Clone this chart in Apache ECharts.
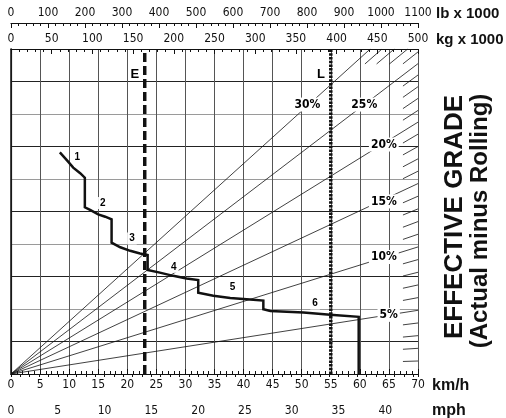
<!DOCTYPE html>
<html>
<head>
<meta charset="utf-8">
<title>Gradeability chart</title>
<script src="https://cdn.jsdelivr.net/npm/echarts@6/dist/echarts.min.js"></script>
<style>
  html, body { margin: 0; padding: 0; background: #fff; }
  #chart { width: 506px; height: 418px; }
</style>
</head>
<body>
<div id="chart"></div>
<script>
// --- data ---
// rimpull curve: speed (km/h) against rimpull (unlabelled scale, 0..100)
const curveSpeed = [8.4, 9.6, 10.7, 11.9, 12.7, 12.7, 13.6, 15.0, 16.2, 17.3, 17.3, 18.8, 20.5, 22.2, 23.5, 23.5,
  25.6, 27.9, 30.2, 32.2, 32.2, 34.8, 37.7, 41.1, 43.4, 43.4, 44.6, 50.3, 54.9, 59.8, 59.8];
const curveRimpull = [68.2, 65.8, 63.5, 61.8, 60.4, 51.3, 50.5, 49.1, 48.4, 47.6, 40.4, 39.0, 37.9, 37.1, 36.6, 32.0,
  31.2, 30.2, 29.4, 28.9, 25.0, 24.1, 23.4, 22.9, 22.6, 19.9, 19.4, 18.9, 18.2, 17.6, 0];

// gear numbers along the curve
const gearNames = ['1', '2', '3', '4', '5', '6'];
const gearLabelSpeed = [11.4, 15.8, 20.8, 28.0, 38.1, 52.3];
const gearLabelRimpull = [66.6, 52.6, 41.7, 33.0, 26.6, 21.7];

// grade lines: rimpull reached at 500 (kg x 1000) for each grade %
const gradePct = [1, 2, 3, 4, 5, 6, 7, 8, 9, 10, 11, 12, 13, 14, 15,
  16, 17, 18, 19, 20, 21, 22, 23, 24, 25, 26, 27, 28, 29, 30];
const gradeAt500 = [4.0, 7.9, 11.8, 15.7, 19.6, 23.5, 27.4, 31.3, 35.2, 39.1, 43.0, 46.9, 50.8, 54.7, 58.6,
  62.4, 66.2, 70.0, 73.8, 77.5, 81.1, 84.8, 88.4, 92.0, 95.5, 99.1, 102.6, 106.2, 109.7, 113.3];

// labelled grade lines and where their labels sit (kg x 1000, rimpull)
const gradeLabels = ['30%', '25%', '20%', '15%', '10%', '5%'];
const gradeLabelKg = [364, 434, 458, 458, 458, 464];
const gradeLabelRimpull = [82.9, 82.9, 70.6, 53.1, 36.0, 18.2];

// limit lines E and L (km/h)
const limitNames = ['E', 'L'];
const limitSpeed = [23, 55];
const limitLabelSpeed = [21.3, 53.3];
const limitLabelRimpull = [92.3, 92.3];

// scales
const kmhMax = 70;
const mphMax = 43.5;
const kgMax = 500;
const lbMax = 1100;

const numFont = '"Liberation Sans Narrow", "DejaVu Sans Condensed", "Liberation Sans", sans-serif';
const boldFont = '"Liberation Sans", Arial, sans-serif';

const chart = echarts.init(document.getElementById('chart'));

// where a grade line leaves the plot (right edge or top edge)
const edgeOf = v => v > 100 ? [kgMax * 100 / v, 100] : [kgMax, v];

const fullGrades = [];
const hatchGrades = [];
gradePct.forEach((g, i) => {
  const end = edgeOf(gradeAt500[i]);
  if (g % 5 === 0) {
    fullGrades.push({ coords: [[0, 0], end] });
  } else {
    // only the short piece next to the edge is drawn
    const t = gradeAt500[i] > 100 ? 0.954 : 0.963;
    hatchGrades.push({ coords: [[end[0] * t, end[1] * t], end] });
  }
});

const axisText = { fontFamily: numFont, fontSize: 12, color: '#111', formatter: v => String(v) };
const labelBox = { show: true, position: 'inside', formatter: p => p.name, color: '#000', fontWeight: 'bold' };

chart.setOption({
  animation: false,
  backgroundColor: '#fff',
  grid: { left: 11, right: 88, top: 49, bottom: 44, containLabel: false, outerBoundsMode: 'none' },
  xAxis: [
    { // km/h
      type: 'value', position: 'bottom', min: 0, max: kmhMax, interval: 5,
      axisLine: { lineStyle: { color: '#111', width: 1.2 } },
      axisTick: { inside: true, length: 5, lineStyle: { color: '#111' } },
      minorTick: { show: true, splitNumber: 5, length: 3, lineStyle: { color: '#111' } },
      axisLabel: { ...axisText, margin: 5 },
      splitLine: { show: true, lineStyle: { color: '#555', width: 1 } }
    },
    { // mph
      type: 'value', position: 'bottom', offset: 26, min: 0, max: mphMax, interval: 1,
      axisLine: { lineStyle: { color: '#111', width: 1.2 } },
      axisTick: { length: 3, lineStyle: { color: '#111' } },
      axisLabel: { ...axisText, margin: 5, formatter: v => (v % 5 === 0 ? String(v) : '') },
      splitLine: { show: false }
    },
    { // kg x 1000
      type: 'value', position: 'top', min: 0, max: kgMax, interval: 50,
      axisLine: { lineStyle: { color: '#111', width: 1.2 } },
      axisTick: { inside: true, length: 5, lineStyle: { color: '#111' } },
      minorTick: { show: true, splitNumber: 5, length: 3, lineStyle: { color: '#111' } },
      axisLabel: { ...axisText, margin: 4 },
      splitLine: { show: false }
    },
    { // lb x 1000
      type: 'value', position: 'top', offset: 26, min: 0, max: lbMax, interval: 100,
      axisLine: { lineStyle: { color: '#111', width: 1.2 } },
      axisTick: { inside: true, length: 5, lineStyle: { color: '#111' } },
      minorTick: { show: true, splitNumber: 5, length: 3, lineStyle: { color: '#111' } },
      axisLabel: { ...axisText, margin: 4 },
      splitLine: { show: false }
    }
  ],
  yAxis: [
    {
      type: 'value', min: 0, max: 100, interval: 10,
      axisLine: { show: true, lineStyle: { color: '#333', width: 1.2 } },
      axisTick: { show: false }, axisLabel: { show: false },
      splitLine: { show: true, lineStyle: { color: ['#9a9a9a', '#222'], width: 1 } }
    },
    {
      type: 'value', position: 'right', min: 0, max: 100, interval: 10,
      axisLine: { show: true, lineStyle: { color: '#111', width: 1.5 } },
      axisTick: { show: false }, axisLabel: { show: false }, splitLine: { show: false }
    }
  ],
  series: [
    {
      name: 'grades', type: 'lines', coordinateSystem: 'cartesian2d', xAxisIndex: 2, yAxisIndex: 0,
      silent: true, z: 3,
      lineStyle: { color: '#111', width: 0.8, opacity: 1 },
      data: fullGrades
    },
    {
      name: 'hatch', type: 'lines', coordinateSystem: 'cartesian2d', xAxisIndex: 2, yAxisIndex: 0,
      silent: true, z: 3,
      lineStyle: { color: '#111', width: 0.8, opacity: 1 },
      data: hatchGrades
    },
    {
      name: 'grade labels', type: 'scatter', xAxisIndex: 2, yAxisIndex: 0, symbolSize: 0, z: 6,
      itemStyle: { opacity: 1 },
      label: { ...labelBox, fontFamily: numFont, fontSize: 12, backgroundColor: '#fff', padding: [1, 2] },
      data: gradeLabels.map((t, i) => ({ name: t, value: [gradeLabelKg[i], gradeLabelRimpull[i]] }))
    },
    ...limitNames.map((n, i) => ({
      name: n, type: 'line', xAxisIndex: 0, yAxisIndex: 0, symbol: 'none', z: 4,
      lineStyle: { color: '#111', width: 3.5, type: n === 'E' ? [9, 4] : [2.5, 1.2] },
      data: [[limitSpeed[i], 0], [limitSpeed[i], 100]]
    })),
    {
      name: 'limit labels', type: 'scatter', xAxisIndex: 0, yAxisIndex: 0, symbolSize: 0, z: 6,
      itemStyle: { opacity: 1 },
      label: { ...labelBox, fontFamily: boldFont, fontSize: 13 },
      data: limitNames.map((n, i) => ({ name: n, value: [limitLabelSpeed[i], limitLabelRimpull[i]] }))
    },
    {
      name: 'rimpull', type: 'line', xAxisIndex: 0, yAxisIndex: 0, symbol: 'none', z: 5,
      lineStyle: { color: '#111', width: 2.5, join: 'miter' },
      data: curveSpeed.map((s, i) => [s, curveRimpull[i]])
    },
    {
      name: 'gears', type: 'scatter', xAxisIndex: 0, yAxisIndex: 0, symbolSize: 0, z: 6,
      itemStyle: { opacity: 1 },
      label: { ...labelBox, fontFamily: boldFont, fontSize: 10, backgroundColor: '#fff', padding: [1, 2] },
      data: gearNames.map((n, i) => ({ name: n, value: [gearLabelSpeed[i], gearLabelRimpull[i]] }))
    }
  ],
  graphic: [
    { type: 'text', x: 436, y: 14, style: { text: 'lb x 1000', font: 'bold 15px ' + boldFont, fill: '#111', verticalAlign: 'middle' } },
    { type: 'text', x: 436, y: 40, style: { text: 'kg x 1000', font: 'bold 15px ' + boldFont, fill: '#111', verticalAlign: 'middle' } },
    { type: 'text', x: 432, y: 386, style: { text: 'km/h', font: 'bold 16px ' + boldFont, fill: '#111', verticalAlign: 'middle' } },
    { type: 'text', x: 432, y: 411, style: { text: 'mph', font: 'bold 16px ' + boldFont, fill: '#111', verticalAlign: 'middle' } },
    { type: 'text', x: 455, y: 217, rotation: Math.PI / 2,
      style: { text: 'EFFECTIVE GRADE', font: 'bold 26px ' + boldFont, fill: '#111', align: 'center', verticalAlign: 'middle' } },
    { type: 'text', x: 480, y: 221, rotation: Math.PI / 2,
      style: { text: '(Actual minus Rolling)', font: 'bold 24px ' + boldFont, fill: '#111', align: 'center', verticalAlign: 'middle' } }
  ]
});
</script>
</body>
</html>
